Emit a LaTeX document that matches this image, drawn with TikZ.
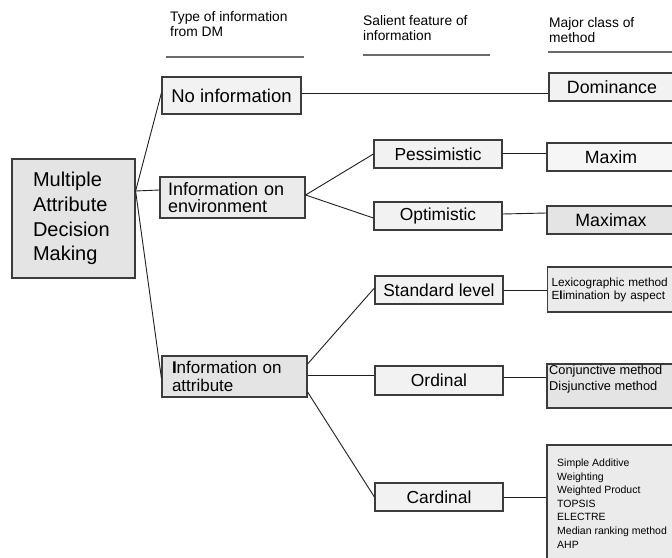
\documentclass[tikz,border=0pt]{standalone}
\usepackage{fontspec}
\setmainfont{Liberation Sans}
\newcommand\fs[2]{\fontsize{#1}{#2}\selectfont}
\definecolor{boxline}{HTML}{3C3C3C}
\definecolor{wireclr}{HTML}{202020}
\definecolor{rulegray}{HTML}{6A6A6A}
\definecolor{fillA}{HTML}{F2F2F2}
\definecolor{fillB}{HTML}{EBEBEB}
\definecolor{fillC}{HTML}{E4E4E4}
\begin{document}
\begin{tikzpicture}[x=1pt,y=-1pt,
  box/.style={draw=boxline, line width=1.2pt, inner sep=0pt},
  onebox/.style={box, fill=fillA, minimum width=128pt, minimum height=28pt, font=\fs{17.4}{20}},
  wire/.style={draw=wireclr, line width=0.9pt},
  head/.style={anchor=north west, inner sep=0pt, align=left, font=\fs{13.8}{15.5}},
  rule/.style={draw=rulegray, line width=1.4pt},
  plain/.style={anchor=north west, inner sep=0pt, align=left}]
\useasboundingbox (0,0) rectangle (672,557);
\clip (0,0) rectangle (672,557);
\fill[white] (0,0) rectangle (672,557);

% column headings
\node[head] (h1) at (170,11.2) {Type of information\\from DM};
\node[head] (h2) at (363,15.2) {Salient feature of\\information};
\node[head] (h3) at (549,17.2) {Major class of\\method};
\draw[rule] (166,57) -- (304,57);
\draw[rule] (363,55) -- (490,55);
\draw[rule] (548,52) -- (672,52);

% root
\node[box, fill=fillC, text width=81pt, inner xsep=21pt, minimum height=119pt,
      align=left, font=\fs{20}{24.7}] (madm) at (73.5,218.5)
      {Multiple\\Attribute\\Decision\\Making};

% type of information
\node[box, fill=fillA, minimum width=139pt, minimum height=37pt,
      font=\fs{18.5}{22}] (noinfo) at (231.5,95.5) {No information};
\node[box, fill=fillB, text width=129pt, inner xsep=8pt, minimum height=41pt,
      align=left, font=\fs{18}{16.5}] (env) at (232.5,197.5)
      {Information on\\environment};
\node[box, fill=fillC, text width=125pt, inner xsep=10pt, minimum height=41pt,
      align=left, font=\fs{17}{18}] (attr) at (234.5,376.5)
      {\textbf{I}nformation on\\attribute};

% salient features
\node[onebox] (pess) at (438,154) {Pessimistic};
\node[onebox] (opt) at (438,216) {Optimistic};
\node[onebox] (std) at (439,290) {Standard level};
\node[onebox, minimum height=29pt] (ord) at (439,380.5) {Ordinal};
\node[onebox] (card) at (439,497) {Cardinal};

% method classes
\node[box, fill=fillA, minimum width=126pt, minimum height=28pt,
      font=\fs{17.8}{21}] (dom) at (612,87) {Dominance};
\node[box, fill=fillA!70!white, minimum width=128pt, minimum height=28pt,
      font=\fs{17.7}{21}] (maxim) at (611,157) {Maxim};
\node[box, fill=fillC, minimum width=128pt, minimum height=28pt,
      font=\fs{17.8}{21}] (maximax) at (611,220) {Maximax};
\node[box, fill=fillB, anchor=west, text width=127pt, inner xsep=4pt,
      minimum height=45pt, align=left, font=\fs{11.8}{13}] (lex) at (547,289.5)
      {Lexicographic method\\E\textbf{l}imination by aspect};
\node[box, fill=fillC, minimum width=135pt, minimum height=44pt] (conj) at (614.5,386) {};
\node[plain, font=\fs{12.8}{16}] (conjtxt) at (549,365.2)
      {Conjunctive method\\Disjunctive method};
\node[box, fill=fillB, minimum width=135pt, minimum height=130pt] (cardm) at (614.5,510) {};
\node[plain, font=\fs{10.5}{13.6}] (cardmtxt) at (557,458.6)
      {Simple Additive\\Weighting\\Weighted Product\\TOPSIS\\ELECTRE\\Median ranking method\\AHP};

% connectors
\coordinate (fan) at ([yshift=27.5pt]madm.east);
\draw[wire] (fan) -- ([yshift=2.5pt]noinfo.west);
\draw[wire] (fan) -- ([yshift=7.5pt]env.west);
\draw[wire] (fan) -- ([yshift=-1.5pt]attr.west);

\draw[wire] ([yshift=2.5pt]noinfo.east) -- ([yshift=2.5pt]noinfo.east -| dom.west);

\draw[wire] ([yshift=2.5pt]env.east) -- (pess.west);
\draw[wire] ([yshift=2.5pt]env.east) -- ([yshift=-2pt]opt.west);
\draw[wire] ([yshift=1pt]pess.east) -- ([yshift=1pt]pess.east -| maxim.west);
\draw[wire] ([yshift=2pt]opt.east) -- ([yshift=7pt]maximax.west);

\draw[wire] ([yshift=12.5pt]attr.east) -- ([yshift=2pt]std.west);
\draw[wire] ([yshift=1.5pt]attr.east) -- ([yshift=1.5pt]attr.east -| ord.west);
\draw[wire] ([yshift=-15.5pt]attr.east) -- (card.west);
\draw[wire] (std.east) -- (std.east -| lex.west);
\draw[wire] ([yshift=3.5pt]ord.east) -- ([yshift=3.5pt]ord.east -| conj.west);
\draw[wire] (card.east) -- (card.east -| cardm.west);
\end{tikzpicture}
\end{document}
